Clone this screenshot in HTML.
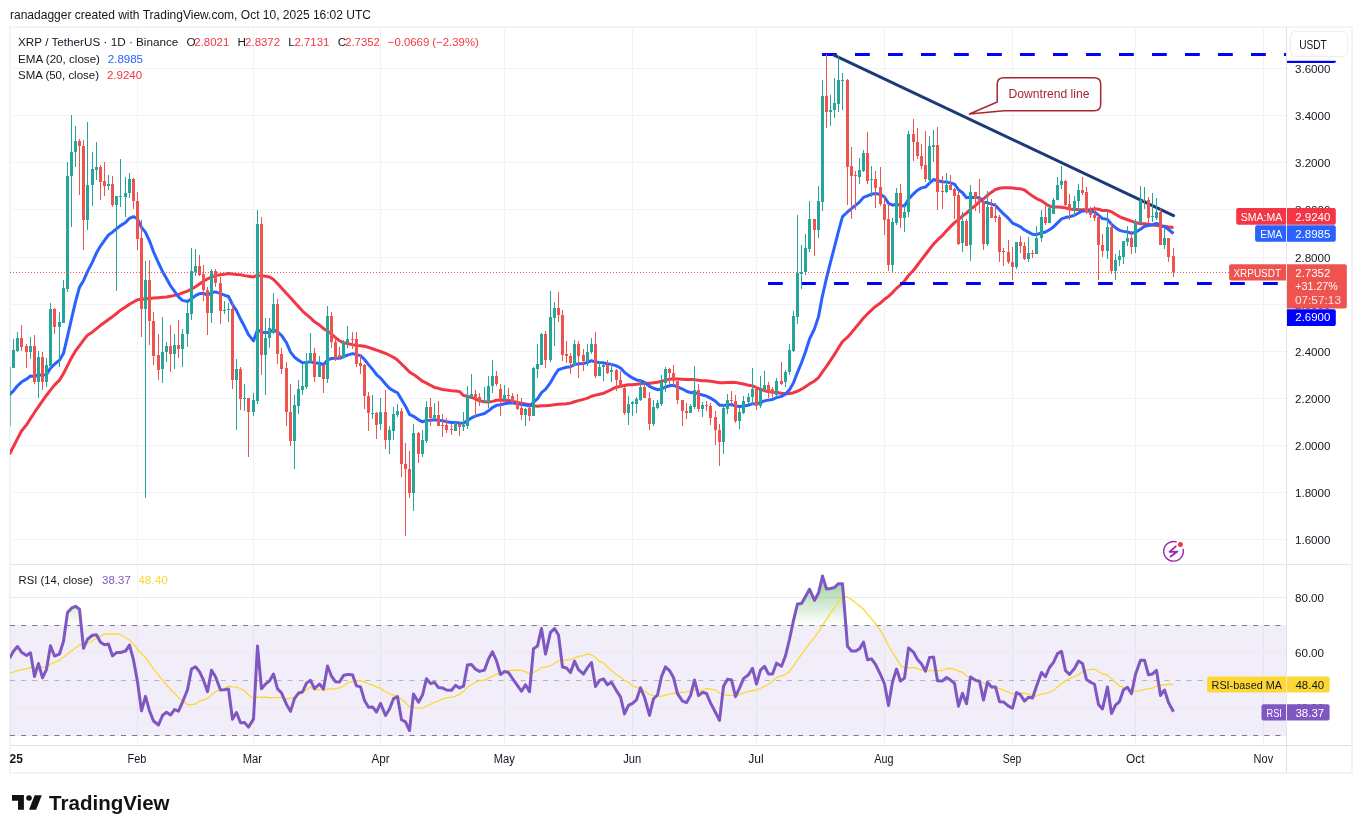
<!DOCTYPE html>
<html><head><meta charset="utf-8"><style>
html,body{margin:0;padding:0;background:#fff;}
svg{display:block;font-family:"Liberation Sans", sans-serif;will-change:transform;}
</style></head><body>
<svg width="1362" height="833" viewBox="0 0 1362 833">
<defs><clipPath id="cm"><rect x="10" y="28" width="1276" height="536"/></clipPath><clipPath id="cr"><rect x="10" y="565" width="1276" height="180"/></clipPath><clipPath id="ct"><rect x="10" y="746" width="1276" height="26"/></clipPath><linearGradient id="gob" x1="0" y1="0" x2="0" y2="1"><stop offset="0" stop-color="#4caf50" stop-opacity="0.02"/><stop offset="1" stop-color="#4caf50" stop-opacity="0.18"/></linearGradient></defs>
<text x="10" y="19" font-size="12" fill="#131722" textLength="361" lengthAdjust="spacingAndGlyphs">ranadagger created with TradingView.com, Oct 10, 2025 16:02 UTC</text>
<rect x="10" y="27.2" width="1342" height="745.8" fill="none" stroke="#f3f3f3" stroke-width="2"/>
<line x1="137.5" y1="28" x2="137.5" y2="745" stroke="#f2f3f5" stroke-width="1"/>
<line x1="253.5" y1="28" x2="253.5" y2="745" stroke="#f2f3f5" stroke-width="1"/>
<line x1="380.5" y1="28" x2="380.5" y2="745" stroke="#f2f3f5" stroke-width="1"/>
<line x1="504.5" y1="28" x2="504.5" y2="745" stroke="#f2f3f5" stroke-width="1"/>
<line x1="632.5" y1="28" x2="632.5" y2="745" stroke="#f2f3f5" stroke-width="1"/>
<line x1="756.5" y1="28" x2="756.5" y2="745" stroke="#f2f3f5" stroke-width="1"/>
<line x1="884.5" y1="28" x2="884.5" y2="745" stroke="#f2f3f5" stroke-width="1"/>
<line x1="1012.5" y1="28" x2="1012.5" y2="745" stroke="#f2f3f5" stroke-width="1"/>
<line x1="1135.5" y1="28" x2="1135.5" y2="745" stroke="#f2f3f5" stroke-width="1"/>
<line x1="1263.5" y1="28" x2="1263.5" y2="745" stroke="#f2f3f5" stroke-width="1"/>
<line x1="10" y1="539.5" x2="1286" y2="539.5" stroke="#f2f3f5" stroke-width="1"/>
<line x1="10" y1="492.5" x2="1286" y2="492.5" stroke="#f2f3f5" stroke-width="1"/>
<line x1="10" y1="445.5" x2="1286" y2="445.5" stroke="#f2f3f5" stroke-width="1"/>
<line x1="10" y1="398.5" x2="1286" y2="398.5" stroke="#f2f3f5" stroke-width="1"/>
<line x1="10" y1="351.5" x2="1286" y2="351.5" stroke="#f2f3f5" stroke-width="1"/>
<line x1="10" y1="304.5" x2="1286" y2="304.5" stroke="#f2f3f5" stroke-width="1"/>
<line x1="10" y1="257.5" x2="1286" y2="257.5" stroke="#f2f3f5" stroke-width="1"/>
<line x1="10" y1="209.5" x2="1286" y2="209.5" stroke="#f2f3f5" stroke-width="1"/>
<line x1="10" y1="162.5" x2="1286" y2="162.5" stroke="#f2f3f5" stroke-width="1"/>
<line x1="10" y1="115.5" x2="1286" y2="115.5" stroke="#f2f3f5" stroke-width="1"/>
<line x1="10" y1="68.5" x2="1286" y2="68.5" stroke="#f2f3f5" stroke-width="1"/>
<rect x="10" y="625" width="1276" height="111" fill="rgba(126,87,194,0.1)"/>
<line x1="10" y1="597.5" x2="1286" y2="597.5" stroke="#ebe8f1" stroke-width="1"/>
<line x1="10" y1="652.5" x2="1286" y2="652.5" stroke="#ebe8f1" stroke-width="1"/>
<line x1="10" y1="707.5" x2="1286" y2="707.5" stroke="#ebe8f1" stroke-width="1"/>
<line x1="10" y1="625.5" x2="1286" y2="625.5" stroke="#787b86" stroke-opacity="1" stroke-width="1" stroke-dasharray="5 6.1"/>
<line x1="10" y1="680.5" x2="1286" y2="680.5" stroke="#787b86" stroke-opacity="0.5" stroke-width="1" stroke-dasharray="5 6.1"/>
<line x1="10" y1="735.5" x2="1286" y2="735.5" stroke="#787b86" stroke-opacity="1" stroke-width="1" stroke-dasharray="5 6.1"/>
<g clip-path="url(#cm)"><polyline points="9.50,454.36 13.50,446.48 17.50,438.61 21.50,431.04 26.50,424.85 30.50,418.66 34.50,412.48 38.50,406.72 42.50,400.97 46.50,395.22 50.50,390.08 54.50,385.11 59.50,380.14 63.50,373.48 67.50,365.64 71.50,357.79 75.50,350.91 79.50,345.53 83.50,340.16 87.50,335.18 92.50,331.90 96.50,328.61 100.50,325.33 104.50,322.44 108.50,319.56 112.50,316.67 116.50,313.48 120.50,310.20 125.50,306.92 129.50,304.21 133.50,301.93 137.50,299.69 141.50,299.28 145.50,298.86 149.50,298.45 153.50,298.04 158.50,297.70 162.50,297.35 166.50,297.01 170.50,296.21 174.50,295.40 178.50,294.59 182.50,292.93 187.50,291.03 191.50,289.12 195.50,286.75 199.50,284.03 203.50,281.31 207.50,278.94 211.50,277.24 215.50,275.57 220.50,274.78 224.50,274.21 228.50,273.44 232.50,274.02 236.50,274.48 240.50,274.81 244.50,275.64 248.50,276.24 253.50,276.94 257.50,275.25 261.50,275.81 265.50,276.14 269.50,276.93 273.50,279.49 277.50,283.54 281.50,288.08 286.50,293.41 290.50,297.83 294.50,302.24 298.50,306.63 302.50,311.01 306.50,314.60 310.50,317.94 314.50,321.80 319.50,325.00 323.50,328.64 327.50,331.04 331.50,334.03 335.50,337.61 339.50,340.75 343.50,342.82 347.50,343.43 352.50,344.62 356.50,345.47 360.50,345.67 364.50,346.20 368.50,347.43 372.50,348.77 376.50,350.18 380.50,351.52 385.50,353.34 389.50,355.27 393.50,357.29 397.50,360.09 401.50,364.04 405.50,367.93 409.50,371.99 413.50,374.41 418.50,378.07 422.50,381.21 426.50,383.14 430.50,385.30 434.50,387.43 438.50,388.33 442.50,389.48 446.50,390.10 451.50,390.74 455.50,390.97 459.50,391.51 463.50,395.53 467.50,396.33 471.50,397.44 475.50,398.88 479.50,400.83 484.50,401.75 488.50,402.10 492.50,401.37 496.50,400.24 500.50,400.11 504.50,400.24 508.50,400.44 512.50,401.26 517.50,402.37 521.50,403.13 525.50,404.01 529.50,404.75 533.50,405.79 537.50,406.22 541.50,405.75 545.50,405.78 550.50,405.28 554.50,404.66 558.50,404.17 562.50,404.00 566.50,403.81 570.50,403.14 574.50,401.76 578.50,400.62 583.50,399.34 587.50,398.14 591.50,396.23 595.50,395.14 599.50,394.20 603.50,393.28 607.50,391.47 611.50,389.48 616.50,387.22 620.50,386.31 624.50,385.50 628.50,384.78 632.50,384.69 636.50,384.31 640.50,383.75 644.50,383.21 649.50,383.17 653.50,382.71 657.50,382.16 661.50,381.34 665.50,380.18 669.50,379.14 673.50,378.87 677.50,379.00 682.50,379.22 686.50,379.44 690.50,379.55 694.50,379.62 698.50,380.27 702.50,380.68 706.50,380.84 710.50,381.29 715.50,381.97 719.50,382.77 723.50,382.75 727.50,382.46 731.50,382.29 735.50,382.40 739.50,383.28 743.50,384.03 748.50,385.28 752.50,385.87 756.50,387.65 760.50,389.28 764.50,390.68 768.50,391.43 772.50,392.16 776.50,392.53 781.50,393.32 785.50,393.65 789.50,393.42 793.50,392.71 797.50,391.28 801.50,389.20 805.50,386.81 809.50,383.89 814.50,381.02 818.50,377.65 822.50,371.97 826.50,366.45 830.50,360.38 834.50,354.36 838.50,347.91 842.50,341.53 847.50,337.13 851.50,332.68 855.50,327.71 859.50,322.98 863.50,317.97 867.50,313.95 871.50,310.15 875.50,306.43 880.50,302.90 884.50,299.30 888.50,296.38 892.50,292.56 896.50,288.31 900.50,284.88 904.50,280.95 908.50,275.53 913.50,270.24 917.50,265.02 921.50,259.72 925.50,254.47 929.50,249.23 933.50,244.13 937.50,239.95 942.50,235.37 946.50,230.83 950.50,226.61 954.50,222.59 958.50,219.68 962.50,215.99 966.50,213.11 970.50,209.25 975.50,205.38 979.50,201.55 983.50,198.80 987.50,195.26 991.50,192.18 995.50,189.54 999.50,188.25 1003.50,187.84 1008.50,187.65 1012.50,188.03 1016.50,188.48 1020.50,188.82 1024.50,189.97 1028.50,193.12 1032.50,195.96 1036.50,198.52 1041.50,200.79 1045.50,203.65 1049.50,206.22 1053.50,206.88 1057.50,207.06 1061.50,207.17 1065.50,207.86 1069.50,208.99 1074.50,209.40 1078.50,209.62 1082.50,209.72 1086.50,209.87 1090.50,209.77 1094.50,208.83 1098.50,209.28 1102.50,210.45 1107.50,210.62 1111.50,211.79 1115.50,214.31 1119.50,216.59 1123.50,218.28 1127.50,219.72 1131.50,221.07 1135.50,222.58 1140.50,223.67 1144.50,223.83 1148.50,224.34 1152.50,224.97 1156.50,225.40 1160.50,226.38 1164.50,226.26 1168.50,226.97 1173.50,227.50" fill="none" stroke="#f23645" stroke-width="3" stroke-linejoin="round"/><polyline points="9.50,395.05 13.50,390.77 17.50,385.76 21.50,382.05 26.50,379.15 30.50,375.99 34.50,376.57 38.50,374.70 42.50,375.38 46.50,374.40 50.50,368.16 54.50,364.21 59.50,360.18 63.50,353.32 67.50,336.43 71.50,318.86 75.50,301.95 79.50,287.11 83.50,280.69 87.50,271.60 92.50,261.86 96.50,252.84 100.50,246.05 104.50,240.35 108.50,234.98 112.50,232.12 116.50,228.72 120.50,225.61 125.50,222.48 129.50,218.33 133.50,216.67 137.50,218.77 141.50,227.32 145.50,232.34 149.50,240.82 153.50,251.74 158.50,262.99 162.50,271.47 166.50,278.55 170.50,285.75 174.50,291.36 178.50,296.83 182.50,300.38 187.50,301.58 191.50,298.69 195.50,295.59 199.50,293.62 203.50,293.29 207.50,295.14 211.50,292.82 215.50,291.90 220.50,293.68 224.50,295.21 228.50,296.49 232.50,304.48 236.50,310.62 240.50,319.02 244.50,326.56 248.50,334.68 253.50,340.92 257.50,329.79 261.50,332.17 265.50,332.76 269.50,332.27 273.50,329.59 277.50,331.95 281.50,335.44 286.50,342.77 290.50,352.12 294.50,357.19 298.50,360.22 302.50,362.69 306.50,362.55 310.50,361.66 314.50,363.09 319.50,363.27 323.50,364.74 327.50,360.09 331.50,358.41 335.50,358.33 339.50,358.32 343.50,356.74 347.50,355.07 352.50,353.62 356.50,354.58 360.50,355.64 364.50,359.51 368.50,364.63 372.50,369.21 376.50,374.51 380.50,378.07 385.50,383.95 389.50,388.35 393.50,390.82 397.50,392.76 401.50,399.51 405.50,406.16 409.50,414.46 413.50,416.26 418.50,419.83 422.50,421.79 426.50,420.39 430.50,420.14 434.50,419.66 438.50,420.22 442.50,420.78 446.50,421.66 451.50,422.48 455.50,422.56 459.50,423.01 463.50,423.19 467.50,420.48 471.50,417.95 475.50,416.18 479.50,414.83 484.50,413.46 488.50,410.85 492.50,407.52 496.50,405.33 500.50,404.71 504.50,403.81 508.50,403.10 512.50,402.99 517.50,403.56 521.50,404.62 525.50,405.04 529.50,406.06 533.50,402.41 537.50,398.73 541.50,392.57 545.50,389.43 550.50,382.54 554.50,375.46 558.50,369.71 562.50,368.32 566.50,367.20 570.50,366.77 574.50,364.63 578.50,363.76 583.50,363.51 587.50,362.40 591.50,360.68 595.50,362.09 599.50,362.58 603.50,362.84 607.50,363.80 611.50,364.37 616.50,365.90 620.50,368.02 624.50,372.32 628.50,375.38 632.50,377.95 636.50,379.96 640.50,380.64 644.50,382.33 649.50,386.29 653.50,388.27 657.50,389.68 661.50,388.95 665.50,387.07 669.50,385.76 673.50,385.31 677.50,386.74 682.50,389.02 686.50,391.27 690.50,392.66 694.50,392.37 698.50,393.92 702.50,394.98 706.50,396.08 710.50,398.15 715.50,401.22 719.50,405.08 723.50,405.39 727.50,404.88 731.50,404.48 735.50,406.05 739.50,406.61 743.50,406.09 748.50,405.19 752.50,403.67 756.50,403.88 760.50,402.53 764.50,400.87 768.50,400.11 772.50,399.42 776.50,397.67 781.50,396.34 785.50,394.02 789.50,389.83 793.50,382.80 797.50,372.32 801.50,362.72 805.50,351.80 809.50,339.18 814.50,328.74 818.50,316.60 822.50,295.59 826.50,278.13 830.50,262.11 834.50,246.98 838.50,231.08 842.50,216.71 847.50,211.97 851.50,208.52 855.50,205.39 859.50,202.04 863.50,197.36 867.50,195.80 871.50,194.20 875.50,193.57 880.50,194.59 884.50,197.03 888.50,203.48 892.50,205.22 896.50,204.09 900.50,205.43 904.50,206.06 908.50,199.20 913.50,193.77 917.50,190.22 921.50,187.87 925.50,187.06 929.50,183.18 933.50,179.55 937.50,180.70 942.50,181.78 946.50,182.09 950.50,182.85 954.50,184.07 958.50,189.75 962.50,192.75 966.50,197.79 970.50,197.24 975.50,197.44 979.50,197.82 983.50,202.19 987.50,202.64 991.50,204.08 995.50,205.39 999.50,209.81 1003.50,213.87 1008.50,218.45 1012.50,223.04 1016.50,224.85 1020.50,226.91 1024.50,229.95 1028.50,232.17 1032.50,234.29 1036.50,234.65 1041.50,232.95 1045.50,232.00 1049.50,229.76 1053.50,226.92 1057.50,222.92 1061.50,218.94 1065.50,217.57 1069.50,216.81 1074.50,215.33 1078.50,212.91 1082.50,211.00 1086.50,211.07 1090.50,211.47 1094.50,212.05 1098.50,215.15 1102.50,218.60 1107.50,219.39 1111.50,224.27 1115.50,227.69 1119.50,230.37 1123.50,231.38 1127.50,232.00 1131.50,233.41 1135.50,232.28 1140.50,229.17 1144.50,226.35 1148.50,225.52 1152.50,224.66 1156.50,223.43 1160.50,225.45 1164.50,226.63 1168.50,229.49 1173.50,233.54" fill="none" stroke="#2962ff" stroke-width="3" stroke-linejoin="round"/><line x1="822" y1="54.5" x2="1286" y2="54.5" stroke="#0000ff" stroke-width="3" stroke-dasharray="14.8 18.2"/><line x1="768" y1="283.5" x2="1286" y2="283.5" stroke="#0000ff" stroke-width="3" stroke-dasharray="14.8 18.2"/><line x1="834" y1="55.2" x2="1173.5" y2="215.6" stroke="#1c3a78" stroke-width="3" stroke-linecap="round"/><path d="M1003.8,77.7 H1094.2 Q1100.7,77.7 1100.7,84.2 V104.2 Q1100.7,110.7 1094.2,110.7 H1004 L969.4,114 L997.2,102 V84.2 Q997.2,77.7 1003.8,77.7 Z" fill="#ffffff" stroke="#a8262f" stroke-width="1.5" stroke-linejoin="round"/><text x="1008.5" y="97.5" font-size="12" fill="#a8262f" textLength="81" lengthAdjust="spacingAndGlyphs">Downtrend line</text><rect x="13" y="339" width="1" height="29" fill="#26a69a"/><rect x="12" y="350" width="3" height="18" fill="#26a69a"/><rect x="17" y="332" width="1" height="20" fill="#26a69a"/><rect x="16" y="338" width="3" height="13" fill="#26a69a"/><rect x="21" y="325" width="1" height="26" fill="#ef5350"/><rect x="20" y="338" width="3" height="9" fill="#ef5350"/><rect x="26" y="344" width="1" height="24" fill="#ef5350"/><rect x="25" y="346" width="3" height="6" fill="#ef5350"/><rect x="30" y="337" width="1" height="22" fill="#26a69a"/><rect x="29" y="346" width="3" height="6" fill="#26a69a"/><rect x="34" y="335" width="1" height="49" fill="#ef5350"/><rect x="33" y="346" width="3" height="36" fill="#ef5350"/><rect x="38" y="351" width="1" height="47" fill="#26a69a"/><rect x="37" y="357" width="3" height="25" fill="#26a69a"/><rect x="42" y="352" width="1" height="38" fill="#ef5350"/><rect x="41" y="357" width="3" height="25" fill="#ef5350"/><rect x="46" y="358" width="1" height="29" fill="#26a69a"/><rect x="45" y="365" width="3" height="17" fill="#26a69a"/><rect x="50" y="303" width="1" height="65" fill="#26a69a"/><rect x="49" y="309" width="3" height="57" fill="#26a69a"/><rect x="54" y="308" width="1" height="26" fill="#ef5350"/><rect x="53" y="309" width="3" height="18" fill="#ef5350"/><rect x="59" y="312" width="1" height="55" fill="#26a69a"/><rect x="58" y="322" width="3" height="5" fill="#26a69a"/><rect x="63" y="280" width="1" height="43" fill="#26a69a"/><rect x="62" y="288" width="3" height="35" fill="#26a69a"/><rect x="67" y="162" width="1" height="130" fill="#26a69a"/><rect x="66" y="176" width="3" height="113" fill="#26a69a"/><rect x="71" y="115" width="1" height="112" fill="#26a69a"/><rect x="70" y="152" width="3" height="24" fill="#26a69a"/><rect x="75" y="126" width="1" height="41" fill="#26a69a"/><rect x="74" y="141" width="3" height="11" fill="#26a69a"/><rect x="79" y="139" width="1" height="56" fill="#ef5350"/><rect x="78" y="141" width="3" height="5" fill="#ef5350"/><rect x="83" y="140" width="1" height="110" fill="#ef5350"/><rect x="82" y="146" width="3" height="74" fill="#ef5350"/><rect x="87" y="122" width="1" height="108" fill="#26a69a"/><rect x="86" y="185" width="3" height="35" fill="#26a69a"/><rect x="92" y="152" width="1" height="54" fill="#26a69a"/><rect x="91" y="169" width="3" height="16" fill="#26a69a"/><rect x="96" y="142" width="1" height="38" fill="#26a69a"/><rect x="95" y="167" width="3" height="3" fill="#26a69a"/><rect x="100" y="165" width="1" height="35" fill="#ef5350"/><rect x="99" y="167" width="3" height="15" fill="#ef5350"/><rect x="104" y="162" width="1" height="34" fill="#ef5350"/><rect x="103" y="181" width="3" height="5" fill="#ef5350"/><rect x="108" y="175" width="1" height="15" fill="#26a69a"/><rect x="107" y="184" width="3" height="2" fill="#26a69a"/><rect x="112" y="176" width="1" height="31" fill="#ef5350"/><rect x="111" y="184" width="3" height="21" fill="#ef5350"/><rect x="116" y="196" width="1" height="95" fill="#26a69a"/><rect x="115" y="196" width="3" height="9" fill="#26a69a"/><rect x="120" y="159" width="1" height="48" fill="#26a69a"/><rect x="119" y="196" width="3" height="1" fill="#26a69a"/><rect x="125" y="177" width="1" height="40" fill="#26a69a"/><rect x="124" y="193" width="3" height="4" fill="#26a69a"/><rect x="129" y="173" width="1" height="25" fill="#26a69a"/><rect x="128" y="179" width="3" height="14" fill="#26a69a"/><rect x="133" y="178" width="1" height="31" fill="#ef5350"/><rect x="132" y="179" width="3" height="22" fill="#ef5350"/><rect x="137" y="192" width="1" height="58" fill="#ef5350"/><rect x="136" y="201" width="3" height="38" fill="#ef5350"/><rect x="141" y="220" width="1" height="117" fill="#ef5350"/><rect x="140" y="238" width="3" height="71" fill="#ef5350"/><rect x="145" y="261" width="1" height="237" fill="#26a69a"/><rect x="144" y="280" width="3" height="29" fill="#26a69a"/><rect x="149" y="260" width="1" height="85" fill="#ef5350"/><rect x="148" y="280" width="3" height="41" fill="#ef5350"/><rect x="153" y="312" width="1" height="53" fill="#ef5350"/><rect x="152" y="321" width="3" height="35" fill="#ef5350"/><rect x="158" y="334" width="1" height="46" fill="#ef5350"/><rect x="157" y="355" width="3" height="15" fill="#ef5350"/><rect x="162" y="317" width="1" height="66" fill="#26a69a"/><rect x="161" y="352" width="3" height="17" fill="#26a69a"/><rect x="166" y="342" width="1" height="20" fill="#26a69a"/><rect x="165" y="346" width="3" height="6" fill="#26a69a"/><rect x="170" y="325" width="1" height="47" fill="#ef5350"/><rect x="169" y="346" width="3" height="8" fill="#ef5350"/><rect x="174" y="334" width="1" height="35" fill="#26a69a"/><rect x="173" y="345" width="3" height="9" fill="#26a69a"/><rect x="178" y="320" width="1" height="38" fill="#ef5350"/><rect x="177" y="345" width="3" height="4" fill="#ef5350"/><rect x="182" y="329" width="1" height="38" fill="#26a69a"/><rect x="181" y="334" width="3" height="15" fill="#26a69a"/><rect x="187" y="302" width="1" height="45" fill="#26a69a"/><rect x="186" y="313" width="3" height="21" fill="#26a69a"/><rect x="191" y="248" width="1" height="72" fill="#26a69a"/><rect x="190" y="271" width="3" height="43" fill="#26a69a"/><rect x="195" y="249" width="1" height="27" fill="#26a69a"/><rect x="194" y="266" width="3" height="6" fill="#26a69a"/><rect x="199" y="255" width="1" height="21" fill="#ef5350"/><rect x="198" y="266" width="3" height="9" fill="#ef5350"/><rect x="203" y="265" width="1" height="36" fill="#ef5350"/><rect x="202" y="274" width="3" height="16" fill="#ef5350"/><rect x="207" y="287" width="1" height="48" fill="#ef5350"/><rect x="206" y="290" width="3" height="23" fill="#ef5350"/><rect x="211" y="269" width="1" height="54" fill="#26a69a"/><rect x="210" y="271" width="3" height="42" fill="#26a69a"/><rect x="215" y="269" width="1" height="18" fill="#ef5350"/><rect x="214" y="271" width="3" height="12" fill="#ef5350"/><rect x="220" y="277" width="1" height="47" fill="#ef5350"/><rect x="219" y="283" width="3" height="28" fill="#ef5350"/><rect x="224" y="301" width="1" height="13" fill="#26a69a"/><rect x="223" y="310" width="3" height="1" fill="#26a69a"/><rect x="228" y="303" width="1" height="19" fill="#26a69a"/><rect x="227" y="309" width="3" height="1" fill="#26a69a"/><rect x="232" y="303" width="1" height="86" fill="#ef5350"/><rect x="231" y="309" width="3" height="71" fill="#ef5350"/><rect x="236" y="359" width="1" height="71" fill="#26a69a"/><rect x="235" y="369" width="3" height="11" fill="#26a69a"/><rect x="240" y="367" width="1" height="43" fill="#ef5350"/><rect x="239" y="369" width="3" height="30" fill="#ef5350"/><rect x="244" y="384" width="1" height="27" fill="#26a69a"/><rect x="243" y="398" width="3" height="1" fill="#26a69a"/><rect x="248" y="398" width="1" height="59" fill="#ef5350"/><rect x="247" y="398" width="3" height="14" fill="#ef5350"/><rect x="253" y="393" width="1" height="23" fill="#26a69a"/><rect x="252" y="400" width="3" height="12" fill="#26a69a"/><rect x="257" y="210" width="1" height="194" fill="#26a69a"/><rect x="256" y="224" width="3" height="177" fill="#26a69a"/><rect x="261" y="217" width="1" height="158" fill="#ef5350"/><rect x="260" y="224" width="3" height="131" fill="#ef5350"/><rect x="265" y="318" width="1" height="77" fill="#26a69a"/><rect x="264" y="338" width="3" height="17" fill="#26a69a"/><rect x="269" y="318" width="1" height="30" fill="#26a69a"/><rect x="268" y="328" width="3" height="10" fill="#26a69a"/><rect x="273" y="293" width="1" height="41" fill="#26a69a"/><rect x="272" y="304" width="3" height="29" fill="#26a69a"/><rect x="277" y="299" width="1" height="65" fill="#ef5350"/><rect x="276" y="304" width="3" height="50" fill="#ef5350"/><rect x="281" y="348" width="1" height="26" fill="#ef5350"/><rect x="280" y="354" width="3" height="15" fill="#ef5350"/><rect x="286" y="362" width="1" height="64" fill="#ef5350"/><rect x="285" y="368" width="3" height="44" fill="#ef5350"/><rect x="290" y="384" width="1" height="62" fill="#ef5350"/><rect x="289" y="412" width="3" height="29" fill="#ef5350"/><rect x="294" y="395" width="1" height="74" fill="#26a69a"/><rect x="293" y="405" width="3" height="36" fill="#26a69a"/><rect x="298" y="380" width="1" height="34" fill="#26a69a"/><rect x="297" y="389" width="3" height="17" fill="#26a69a"/><rect x="302" y="363" width="1" height="32" fill="#26a69a"/><rect x="301" y="386" width="3" height="4" fill="#26a69a"/><rect x="306" y="353" width="1" height="36" fill="#26a69a"/><rect x="305" y="361" width="3" height="26" fill="#26a69a"/><rect x="310" y="333" width="1" height="29" fill="#26a69a"/><rect x="309" y="353" width="3" height="9" fill="#26a69a"/><rect x="314" y="348" width="1" height="34" fill="#ef5350"/><rect x="313" y="353" width="3" height="24" fill="#ef5350"/><rect x="319" y="356" width="1" height="21" fill="#26a69a"/><rect x="318" y="365" width="3" height="12" fill="#26a69a"/><rect x="323" y="365" width="1" height="28" fill="#ef5350"/><rect x="322" y="365" width="3" height="14" fill="#ef5350"/><rect x="327" y="306" width="1" height="77" fill="#26a69a"/><rect x="326" y="316" width="3" height="63" fill="#26a69a"/><rect x="331" y="312" width="1" height="36" fill="#ef5350"/><rect x="330" y="316" width="3" height="26" fill="#ef5350"/><rect x="335" y="336" width="1" height="25" fill="#ef5350"/><rect x="334" y="342" width="3" height="16" fill="#ef5350"/><rect x="339" y="347" width="1" height="12" fill="#ef5350"/><rect x="338" y="355" width="3" height="3" fill="#ef5350"/><rect x="343" y="340" width="1" height="18" fill="#26a69a"/><rect x="342" y="342" width="3" height="16" fill="#26a69a"/><rect x="347" y="326" width="1" height="22" fill="#26a69a"/><rect x="346" y="339" width="3" height="3" fill="#26a69a"/><rect x="352" y="332" width="1" height="17" fill="#ef5350"/><rect x="351" y="339" width="3" height="1" fill="#ef5350"/><rect x="356" y="332" width="1" height="35" fill="#ef5350"/><rect x="355" y="339" width="3" height="25" fill="#ef5350"/><rect x="360" y="354" width="1" height="20" fill="#ef5350"/><rect x="359" y="363" width="3" height="3" fill="#ef5350"/><rect x="364" y="364" width="1" height="45" fill="#ef5350"/><rect x="363" y="365" width="3" height="31" fill="#ef5350"/><rect x="368" y="392" width="1" height="39" fill="#ef5350"/><rect x="367" y="396" width="3" height="17" fill="#ef5350"/><rect x="372" y="395" width="1" height="24" fill="#26a69a"/><rect x="371" y="413" width="3" height="1" fill="#26a69a"/><rect x="376" y="412" width="1" height="27" fill="#ef5350"/><rect x="375" y="413" width="3" height="12" fill="#ef5350"/><rect x="380" y="398" width="1" height="32" fill="#26a69a"/><rect x="379" y="412" width="3" height="12" fill="#26a69a"/><rect x="385" y="390" width="1" height="59" fill="#ef5350"/><rect x="384" y="412" width="3" height="28" fill="#ef5350"/><rect x="389" y="426" width="1" height="28" fill="#26a69a"/><rect x="388" y="430" width="3" height="10" fill="#26a69a"/><rect x="393" y="407" width="1" height="33" fill="#26a69a"/><rect x="392" y="414" width="3" height="17" fill="#26a69a"/><rect x="397" y="404" width="1" height="13" fill="#26a69a"/><rect x="396" y="411" width="3" height="4" fill="#26a69a"/><rect x="401" y="408" width="1" height="69" fill="#ef5350"/><rect x="400" y="411" width="3" height="53" fill="#ef5350"/><rect x="405" y="443" width="1" height="93" fill="#ef5350"/><rect x="404" y="464" width="3" height="5" fill="#ef5350"/><rect x="409" y="451" width="1" height="47" fill="#ef5350"/><rect x="408" y="469" width="3" height="24" fill="#ef5350"/><rect x="413" y="424" width="1" height="87" fill="#26a69a"/><rect x="412" y="433" width="3" height="60" fill="#26a69a"/><rect x="418" y="432" width="1" height="31" fill="#ef5350"/><rect x="417" y="433" width="3" height="21" fill="#ef5350"/><rect x="422" y="430" width="1" height="27" fill="#26a69a"/><rect x="421" y="440" width="3" height="14" fill="#26a69a"/><rect x="426" y="401" width="1" height="42" fill="#26a69a"/><rect x="425" y="407" width="3" height="34" fill="#26a69a"/><rect x="430" y="398" width="1" height="28" fill="#ef5350"/><rect x="429" y="407" width="3" height="11" fill="#ef5350"/><rect x="434" y="403" width="1" height="17" fill="#26a69a"/><rect x="433" y="415" width="3" height="3" fill="#26a69a"/><rect x="438" y="401" width="1" height="25" fill="#ef5350"/><rect x="437" y="415" width="3" height="11" fill="#ef5350"/><rect x="442" y="414" width="1" height="23" fill="#ef5350"/><rect x="441" y="425" width="3" height="1" fill="#ef5350"/><rect x="446" y="418" width="1" height="15" fill="#ef5350"/><rect x="445" y="425" width="3" height="5" fill="#ef5350"/><rect x="451" y="424" width="1" height="11" fill="#ef5350"/><rect x="450" y="429" width="3" height="1" fill="#ef5350"/><rect x="455" y="422" width="1" height="9" fill="#26a69a"/><rect x="454" y="423" width="3" height="8" fill="#26a69a"/><rect x="459" y="423" width="1" height="13" fill="#ef5350"/><rect x="458" y="424" width="3" height="3" fill="#ef5350"/><rect x="463" y="412" width="1" height="19" fill="#26a69a"/><rect x="462" y="425" width="3" height="2" fill="#26a69a"/><rect x="467" y="386" width="1" height="43" fill="#26a69a"/><rect x="466" y="395" width="3" height="31" fill="#26a69a"/><rect x="471" y="374" width="1" height="24" fill="#26a69a"/><rect x="470" y="394" width="3" height="3" fill="#26a69a"/><rect x="475" y="390" width="1" height="27" fill="#ef5350"/><rect x="474" y="394" width="3" height="5" fill="#ef5350"/><rect x="479" y="393" width="1" height="13" fill="#ef5350"/><rect x="478" y="397" width="3" height="5" fill="#ef5350"/><rect x="484" y="387" width="1" height="15" fill="#26a69a"/><rect x="483" y="400" width="3" height="2" fill="#26a69a"/><rect x="488" y="376" width="1" height="32" fill="#26a69a"/><rect x="487" y="386" width="3" height="16" fill="#26a69a"/><rect x="492" y="360" width="1" height="33" fill="#26a69a"/><rect x="491" y="376" width="3" height="10" fill="#26a69a"/><rect x="496" y="371" width="1" height="15" fill="#ef5350"/><rect x="495" y="376" width="3" height="8" fill="#ef5350"/><rect x="500" y="384" width="1" height="32" fill="#ef5350"/><rect x="499" y="389" width="3" height="10" fill="#ef5350"/><rect x="504" y="385" width="1" height="15" fill="#26a69a"/><rect x="503" y="395" width="3" height="5" fill="#26a69a"/><rect x="508" y="388" width="1" height="12" fill="#ef5350"/><rect x="507" y="395" width="3" height="1" fill="#ef5350"/><rect x="512" y="393" width="1" height="11" fill="#ef5350"/><rect x="511" y="396" width="3" height="6" fill="#ef5350"/><rect x="517" y="394" width="1" height="16" fill="#ef5350"/><rect x="516" y="401" width="3" height="8" fill="#ef5350"/><rect x="521" y="398" width="1" height="22" fill="#ef5350"/><rect x="520" y="408" width="3" height="7" fill="#ef5350"/><rect x="525" y="408" width="1" height="18" fill="#26a69a"/><rect x="524" y="409" width="3" height="6" fill="#26a69a"/><rect x="529" y="405" width="1" height="16" fill="#ef5350"/><rect x="528" y="408" width="3" height="8" fill="#ef5350"/><rect x="533" y="367" width="1" height="49" fill="#26a69a"/><rect x="532" y="368" width="3" height="48" fill="#26a69a"/><rect x="537" y="344" width="1" height="34" fill="#26a69a"/><rect x="536" y="364" width="3" height="5" fill="#26a69a"/><rect x="541" y="333" width="1" height="32" fill="#26a69a"/><rect x="540" y="334" width="3" height="31" fill="#26a69a"/><rect x="545" y="331" width="1" height="37" fill="#ef5350"/><rect x="544" y="334" width="3" height="26" fill="#ef5350"/><rect x="550" y="291" width="1" height="71" fill="#26a69a"/><rect x="549" y="317" width="3" height="43" fill="#26a69a"/><rect x="554" y="302" width="1" height="44" fill="#26a69a"/><rect x="553" y="308" width="3" height="10" fill="#26a69a"/><rect x="558" y="292" width="1" height="30" fill="#ef5350"/><rect x="557" y="308" width="3" height="7" fill="#ef5350"/><rect x="562" y="310" width="1" height="51" fill="#ef5350"/><rect x="561" y="315" width="3" height="40" fill="#ef5350"/><rect x="566" y="341" width="1" height="22" fill="#ef5350"/><rect x="565" y="354" width="3" height="2" fill="#ef5350"/><rect x="570" y="353" width="1" height="21" fill="#ef5350"/><rect x="569" y="356" width="3" height="7" fill="#ef5350"/><rect x="574" y="340" width="1" height="26" fill="#26a69a"/><rect x="573" y="344" width="3" height="22" fill="#26a69a"/><rect x="578" y="341" width="1" height="37" fill="#ef5350"/><rect x="577" y="344" width="3" height="12" fill="#ef5350"/><rect x="583" y="349" width="1" height="22" fill="#ef5350"/><rect x="582" y="355" width="3" height="6" fill="#ef5350"/><rect x="587" y="344" width="1" height="22" fill="#26a69a"/><rect x="586" y="352" width="3" height="10" fill="#26a69a"/><rect x="591" y="338" width="1" height="16" fill="#26a69a"/><rect x="590" y="344" width="3" height="8" fill="#26a69a"/><rect x="595" y="332" width="1" height="46" fill="#ef5350"/><rect x="594" y="344" width="3" height="32" fill="#ef5350"/><rect x="599" y="361" width="1" height="15" fill="#26a69a"/><rect x="598" y="367" width="3" height="9" fill="#26a69a"/><rect x="603" y="364" width="1" height="17" fill="#26a69a"/><rect x="602" y="365" width="3" height="2" fill="#26a69a"/><rect x="607" y="360" width="1" height="14" fill="#ef5350"/><rect x="606" y="365" width="3" height="8" fill="#ef5350"/><rect x="611" y="363" width="1" height="19" fill="#26a69a"/><rect x="610" y="370" width="3" height="2" fill="#26a69a"/><rect x="616" y="369" width="1" height="22" fill="#ef5350"/><rect x="615" y="370" width="3" height="10" fill="#ef5350"/><rect x="620" y="371" width="1" height="17" fill="#ef5350"/><rect x="619" y="380" width="3" height="8" fill="#ef5350"/><rect x="624" y="387" width="1" height="28" fill="#ef5350"/><rect x="623" y="388" width="3" height="25" fill="#ef5350"/><rect x="628" y="396" width="1" height="29" fill="#26a69a"/><rect x="627" y="404" width="3" height="9" fill="#26a69a"/><rect x="632" y="401" width="1" height="15" fill="#26a69a"/><rect x="631" y="402" width="3" height="2" fill="#26a69a"/><rect x="636" y="397" width="1" height="16" fill="#26a69a"/><rect x="635" y="399" width="3" height="5" fill="#26a69a"/><rect x="640" y="379" width="1" height="22" fill="#26a69a"/><rect x="639" y="387" width="3" height="13" fill="#26a69a"/><rect x="644" y="383" width="1" height="15" fill="#ef5350"/><rect x="643" y="387" width="3" height="11" fill="#ef5350"/><rect x="649" y="392" width="1" height="38" fill="#ef5350"/><rect x="648" y="398" width="3" height="26" fill="#ef5350"/><rect x="653" y="400" width="1" height="26" fill="#26a69a"/><rect x="652" y="407" width="3" height="17" fill="#26a69a"/><rect x="657" y="400" width="1" height="9" fill="#26a69a"/><rect x="656" y="403" width="3" height="5" fill="#26a69a"/><rect x="661" y="375" width="1" height="31" fill="#26a69a"/><rect x="660" y="382" width="3" height="22" fill="#26a69a"/><rect x="665" y="367" width="1" height="25" fill="#26a69a"/><rect x="664" y="369" width="3" height="14" fill="#26a69a"/><rect x="669" y="368" width="1" height="16" fill="#ef5350"/><rect x="668" y="369" width="3" height="4" fill="#ef5350"/><rect x="673" y="365" width="1" height="21" fill="#ef5350"/><rect x="672" y="373" width="3" height="8" fill="#ef5350"/><rect x="677" y="381" width="1" height="23" fill="#ef5350"/><rect x="676" y="381" width="3" height="19" fill="#ef5350"/><rect x="682" y="400" width="1" height="26" fill="#ef5350"/><rect x="681" y="400" width="3" height="11" fill="#ef5350"/><rect x="686" y="403" width="1" height="16" fill="#ef5350"/><rect x="685" y="411" width="3" height="2" fill="#ef5350"/><rect x="690" y="404" width="1" height="9" fill="#26a69a"/><rect x="689" y="406" width="3" height="7" fill="#26a69a"/><rect x="694" y="366" width="1" height="43" fill="#26a69a"/><rect x="693" y="390" width="3" height="17" fill="#26a69a"/><rect x="698" y="384" width="1" height="28" fill="#ef5350"/><rect x="697" y="390" width="3" height="19" fill="#ef5350"/><rect x="702" y="402" width="1" height="15" fill="#26a69a"/><rect x="701" y="405" width="3" height="4" fill="#26a69a"/><rect x="706" y="401" width="1" height="10" fill="#ef5350"/><rect x="705" y="405" width="3" height="1" fill="#ef5350"/><rect x="710" y="403" width="1" height="22" fill="#ef5350"/><rect x="709" y="406" width="3" height="12" fill="#ef5350"/><rect x="715" y="411" width="1" height="34" fill="#ef5350"/><rect x="714" y="417" width="3" height="13" fill="#ef5350"/><rect x="719" y="424" width="1" height="42" fill="#ef5350"/><rect x="718" y="430" width="3" height="12" fill="#ef5350"/><rect x="723" y="405" width="1" height="49" fill="#26a69a"/><rect x="722" y="408" width="3" height="34" fill="#26a69a"/><rect x="727" y="394" width="1" height="20" fill="#26a69a"/><rect x="726" y="400" width="3" height="9" fill="#26a69a"/><rect x="731" y="391" width="1" height="14" fill="#ef5350"/><rect x="730" y="400" width="3" height="1" fill="#ef5350"/><rect x="735" y="395" width="1" height="28" fill="#ef5350"/><rect x="734" y="401" width="3" height="20" fill="#ef5350"/><rect x="739" y="408" width="1" height="21" fill="#26a69a"/><rect x="738" y="412" width="3" height="9" fill="#26a69a"/><rect x="743" y="396" width="1" height="18" fill="#26a69a"/><rect x="742" y="401" width="3" height="12" fill="#26a69a"/><rect x="748" y="393" width="1" height="11" fill="#26a69a"/><rect x="747" y="397" width="3" height="5" fill="#26a69a"/><rect x="752" y="368" width="1" height="37" fill="#26a69a"/><rect x="751" y="389" width="3" height="8" fill="#26a69a"/><rect x="756" y="386" width="1" height="24" fill="#ef5350"/><rect x="755" y="389" width="3" height="17" fill="#ef5350"/><rect x="760" y="376" width="1" height="32" fill="#26a69a"/><rect x="759" y="390" width="3" height="16" fill="#26a69a"/><rect x="764" y="371" width="1" height="20" fill="#26a69a"/><rect x="763" y="385" width="3" height="6" fill="#26a69a"/><rect x="768" y="382" width="1" height="16" fill="#ef5350"/><rect x="767" y="385" width="3" height="8" fill="#ef5350"/><rect x="772" y="387" width="1" height="10" fill="#ef5350"/><rect x="771" y="389" width="3" height="4" fill="#ef5350"/><rect x="776" y="378" width="1" height="18" fill="#26a69a"/><rect x="775" y="381" width="3" height="14" fill="#26a69a"/><rect x="781" y="362" width="1" height="23" fill="#ef5350"/><rect x="780" y="381" width="3" height="3" fill="#ef5350"/><rect x="785" y="370" width="1" height="17" fill="#26a69a"/><rect x="784" y="372" width="3" height="10" fill="#26a69a"/><rect x="789" y="344" width="1" height="31" fill="#26a69a"/><rect x="788" y="350" width="3" height="22" fill="#26a69a"/><rect x="793" y="311" width="1" height="41" fill="#26a69a"/><rect x="792" y="316" width="3" height="35" fill="#26a69a"/><rect x="797" y="215" width="1" height="109" fill="#26a69a"/><rect x="796" y="273" width="3" height="44" fill="#26a69a"/><rect x="801" y="245" width="1" height="44" fill="#26a69a"/><rect x="800" y="272" width="3" height="2" fill="#26a69a"/><rect x="805" y="234" width="1" height="41" fill="#26a69a"/><rect x="804" y="248" width="3" height="24" fill="#26a69a"/><rect x="809" y="201" width="1" height="51" fill="#26a69a"/><rect x="808" y="219" width="3" height="30" fill="#26a69a"/><rect x="814" y="219" width="1" height="37" fill="#ef5350"/><rect x="813" y="219" width="3" height="11" fill="#ef5350"/><rect x="818" y="186" width="1" height="52" fill="#26a69a"/><rect x="817" y="201" width="3" height="29" fill="#26a69a"/><rect x="822" y="80" width="1" height="131" fill="#26a69a"/><rect x="821" y="96" width="3" height="106" fill="#26a69a"/><rect x="826" y="54" width="1" height="74" fill="#ef5350"/><rect x="825" y="96" width="3" height="16" fill="#ef5350"/><rect x="830" y="95" width="1" height="31" fill="#26a69a"/><rect x="829" y="110" width="3" height="2" fill="#26a69a"/><rect x="834" y="78" width="1" height="40" fill="#26a69a"/><rect x="833" y="103" width="3" height="7" fill="#26a69a"/><rect x="838" y="56" width="1" height="56" fill="#26a69a"/><rect x="837" y="80" width="3" height="24" fill="#26a69a"/><rect x="842" y="73" width="1" height="37" fill="#26a69a"/><rect x="841" y="80" width="3" height="1" fill="#26a69a"/><rect x="847" y="79" width="1" height="126" fill="#ef5350"/><rect x="846" y="80" width="3" height="87" fill="#ef5350"/><rect x="851" y="147" width="1" height="72" fill="#ef5350"/><rect x="850" y="166" width="3" height="10" fill="#ef5350"/><rect x="855" y="171" width="1" height="39" fill="#ef5350"/><rect x="854" y="175" width="3" height="1" fill="#ef5350"/><rect x="859" y="158" width="1" height="26" fill="#26a69a"/><rect x="858" y="170" width="3" height="7" fill="#26a69a"/><rect x="863" y="150" width="1" height="22" fill="#26a69a"/><rect x="862" y="153" width="3" height="18" fill="#26a69a"/><rect x="867" y="132" width="1" height="52" fill="#ef5350"/><rect x="866" y="153" width="3" height="28" fill="#ef5350"/><rect x="871" y="166" width="1" height="31" fill="#26a69a"/><rect x="870" y="179" width="3" height="1" fill="#26a69a"/><rect x="875" y="171" width="1" height="37" fill="#ef5350"/><rect x="874" y="179" width="3" height="9" fill="#ef5350"/><rect x="880" y="167" width="1" height="39" fill="#ef5350"/><rect x="879" y="187" width="3" height="17" fill="#ef5350"/><rect x="884" y="196" width="1" height="39" fill="#ef5350"/><rect x="883" y="204" width="3" height="16" fill="#ef5350"/><rect x="888" y="204" width="1" height="67" fill="#ef5350"/><rect x="887" y="219" width="3" height="46" fill="#ef5350"/><rect x="892" y="218" width="1" height="55" fill="#26a69a"/><rect x="891" y="222" width="3" height="43" fill="#26a69a"/><rect x="896" y="188" width="1" height="37" fill="#26a69a"/><rect x="895" y="193" width="3" height="30" fill="#26a69a"/><rect x="900" y="184" width="1" height="44" fill="#ef5350"/><rect x="899" y="193" width="3" height="25" fill="#ef5350"/><rect x="904" y="205" width="1" height="27" fill="#26a69a"/><rect x="903" y="212" width="3" height="6" fill="#26a69a"/><rect x="908" y="131" width="1" height="86" fill="#26a69a"/><rect x="907" y="134" width="3" height="78" fill="#26a69a"/><rect x="913" y="119" width="1" height="42" fill="#ef5350"/><rect x="912" y="134" width="3" height="8" fill="#ef5350"/><rect x="917" y="128" width="1" height="31" fill="#ef5350"/><rect x="916" y="142" width="3" height="14" fill="#ef5350"/><rect x="921" y="144" width="1" height="25" fill="#ef5350"/><rect x="920" y="156" width="3" height="10" fill="#ef5350"/><rect x="925" y="131" width="1" height="51" fill="#ef5350"/><rect x="924" y="165" width="3" height="14" fill="#ef5350"/><rect x="929" y="136" width="1" height="48" fill="#26a69a"/><rect x="928" y="146" width="3" height="34" fill="#26a69a"/><rect x="933" y="130" width="1" height="32" fill="#26a69a"/><rect x="932" y="145" width="3" height="2" fill="#26a69a"/><rect x="937" y="127" width="1" height="83" fill="#ef5350"/><rect x="936" y="145" width="3" height="47" fill="#ef5350"/><rect x="942" y="176" width="1" height="33" fill="#ef5350"/><rect x="941" y="191" width="3" height="1" fill="#ef5350"/><rect x="946" y="173" width="1" height="20" fill="#26a69a"/><rect x="945" y="185" width="3" height="7" fill="#26a69a"/><rect x="950" y="175" width="1" height="15" fill="#ef5350"/><rect x="949" y="185" width="3" height="5" fill="#ef5350"/><rect x="954" y="188" width="1" height="31" fill="#ef5350"/><rect x="953" y="189" width="3" height="7" fill="#ef5350"/><rect x="958" y="192" width="1" height="53" fill="#ef5350"/><rect x="957" y="195" width="3" height="49" fill="#ef5350"/><rect x="962" y="212" width="1" height="40" fill="#26a69a"/><rect x="961" y="221" width="3" height="22" fill="#26a69a"/><rect x="966" y="219" width="1" height="27" fill="#ef5350"/><rect x="965" y="221" width="3" height="25" fill="#ef5350"/><rect x="970" y="185" width="1" height="76" fill="#26a69a"/><rect x="969" y="192" width="3" height="53" fill="#26a69a"/><rect x="975" y="192" width="1" height="19" fill="#ef5350"/><rect x="974" y="192" width="3" height="7" fill="#ef5350"/><rect x="979" y="179" width="1" height="34" fill="#ef5350"/><rect x="978" y="198" width="3" height="3" fill="#ef5350"/><rect x="983" y="199" width="1" height="51" fill="#ef5350"/><rect x="982" y="201" width="3" height="43" fill="#ef5350"/><rect x="987" y="191" width="1" height="55" fill="#26a69a"/><rect x="986" y="207" width="3" height="37" fill="#26a69a"/><rect x="991" y="199" width="1" height="19" fill="#ef5350"/><rect x="990" y="207" width="3" height="11" fill="#ef5350"/><rect x="995" y="203" width="1" height="19" fill="#ef5350"/><rect x="994" y="216" width="3" height="2" fill="#ef5350"/><rect x="999" y="215" width="1" height="47" fill="#ef5350"/><rect x="998" y="217" width="3" height="35" fill="#ef5350"/><rect x="1003" y="248" width="1" height="18" fill="#ef5350"/><rect x="1002" y="251" width="3" height="1" fill="#ef5350"/><rect x="1008" y="240" width="1" height="24" fill="#ef5350"/><rect x="1007" y="252" width="3" height="10" fill="#ef5350"/><rect x="1012" y="247" width="1" height="33" fill="#ef5350"/><rect x="1011" y="262" width="3" height="5" fill="#ef5350"/><rect x="1016" y="242" width="1" height="27" fill="#26a69a"/><rect x="1015" y="242" width="3" height="25" fill="#26a69a"/><rect x="1020" y="236" width="1" height="17" fill="#ef5350"/><rect x="1019" y="242" width="3" height="4" fill="#ef5350"/><rect x="1024" y="242" width="1" height="18" fill="#ef5350"/><rect x="1023" y="246" width="3" height="13" fill="#ef5350"/><rect x="1028" y="237" width="1" height="25" fill="#26a69a"/><rect x="1027" y="253" width="3" height="6" fill="#26a69a"/><rect x="1032" y="250" width="1" height="8" fill="#ef5350"/><rect x="1031" y="253" width="3" height="1" fill="#ef5350"/><rect x="1036" y="226" width="1" height="28" fill="#26a69a"/><rect x="1035" y="238" width="3" height="16" fill="#26a69a"/><rect x="1041" y="210" width="1" height="32" fill="#26a69a"/><rect x="1040" y="217" width="3" height="21" fill="#26a69a"/><rect x="1045" y="206" width="1" height="19" fill="#ef5350"/><rect x="1044" y="217" width="3" height="6" fill="#ef5350"/><rect x="1049" y="204" width="1" height="19" fill="#26a69a"/><rect x="1048" y="208" width="3" height="15" fill="#26a69a"/><rect x="1053" y="198" width="1" height="16" fill="#26a69a"/><rect x="1052" y="200" width="3" height="14" fill="#26a69a"/><rect x="1057" y="177" width="1" height="23" fill="#26a69a"/><rect x="1056" y="185" width="3" height="15" fill="#26a69a"/><rect x="1061" y="166" width="1" height="23" fill="#26a69a"/><rect x="1060" y="181" width="3" height="4" fill="#26a69a"/><rect x="1065" y="180" width="1" height="26" fill="#ef5350"/><rect x="1064" y="181" width="3" height="24" fill="#ef5350"/><rect x="1069" y="194" width="1" height="26" fill="#ef5350"/><rect x="1068" y="204" width="3" height="6" fill="#ef5350"/><rect x="1074" y="196" width="1" height="21" fill="#26a69a"/><rect x="1073" y="201" width="3" height="9" fill="#26a69a"/><rect x="1078" y="184" width="1" height="28" fill="#26a69a"/><rect x="1077" y="190" width="3" height="11" fill="#26a69a"/><rect x="1082" y="177" width="1" height="18" fill="#ef5350"/><rect x="1081" y="190" width="3" height="3" fill="#ef5350"/><rect x="1086" y="187" width="1" height="27" fill="#ef5350"/><rect x="1085" y="192" width="3" height="20" fill="#ef5350"/><rect x="1090" y="207" width="1" height="11" fill="#ef5350"/><rect x="1089" y="211" width="3" height="4" fill="#ef5350"/><rect x="1094" y="206" width="1" height="15" fill="#ef5350"/><rect x="1093" y="215" width="3" height="3" fill="#ef5350"/><rect x="1098" y="215" width="1" height="65" fill="#ef5350"/><rect x="1097" y="217" width="3" height="28" fill="#ef5350"/><rect x="1102" y="234" width="1" height="23" fill="#ef5350"/><rect x="1101" y="245" width="3" height="6" fill="#ef5350"/><rect x="1107" y="211" width="1" height="48" fill="#26a69a"/><rect x="1106" y="227" width="3" height="24" fill="#26a69a"/><rect x="1111" y="223" width="1" height="51" fill="#ef5350"/><rect x="1110" y="227" width="3" height="44" fill="#ef5350"/><rect x="1115" y="254" width="1" height="26" fill="#26a69a"/><rect x="1114" y="260" width="3" height="11" fill="#26a69a"/><rect x="1119" y="250" width="1" height="16" fill="#26a69a"/><rect x="1118" y="256" width="3" height="4" fill="#26a69a"/><rect x="1123" y="241" width="1" height="23" fill="#26a69a"/><rect x="1122" y="241" width="3" height="16" fill="#26a69a"/><rect x="1127" y="226" width="1" height="20" fill="#26a69a"/><rect x="1126" y="238" width="3" height="4" fill="#26a69a"/><rect x="1131" y="231" width="1" height="23" fill="#ef5350"/><rect x="1130" y="238" width="3" height="9" fill="#ef5350"/><rect x="1135" y="219" width="1" height="34" fill="#26a69a"/><rect x="1134" y="222" width="3" height="25" fill="#26a69a"/><rect x="1140" y="186" width="1" height="37" fill="#26a69a"/><rect x="1139" y="200" width="3" height="23" fill="#26a69a"/><rect x="1144" y="187" width="1" height="22" fill="#26a69a"/><rect x="1143" y="200" width="3" height="1" fill="#26a69a"/><rect x="1148" y="197" width="1" height="26" fill="#ef5350"/><rect x="1147" y="200" width="3" height="18" fill="#ef5350"/><rect x="1152" y="193" width="1" height="29" fill="#26a69a"/><rect x="1151" y="216" width="3" height="1" fill="#26a69a"/><rect x="1156" y="198" width="1" height="22" fill="#26a69a"/><rect x="1155" y="212" width="3" height="6" fill="#26a69a"/><rect x="1160" y="209" width="1" height="36" fill="#ef5350"/><rect x="1159" y="212" width="3" height="33" fill="#ef5350"/><rect x="1164" y="227" width="1" height="22" fill="#26a69a"/><rect x="1163" y="238" width="3" height="7" fill="#26a69a"/><rect x="1168" y="238" width="1" height="24" fill="#ef5350"/><rect x="1167" y="238" width="3" height="19" fill="#ef5350"/><rect x="1173" y="248" width="1" height="29" fill="#ef5350"/><rect x="1172" y="256" width="3" height="16" fill="#ef5350"/><line x1="10" y1="272.5" x2="1286" y2="272.5" stroke="#ef5350" stroke-width="1" stroke-dasharray="1 2"/></g>
<g clip-path="url(#cr)"><linearGradient id="gobf" gradientUnits="userSpaceOnUse" x1="0" y1="542.65" x2="0" y2="625.30"><stop offset="0" stop-color="#4caf50" stop-opacity="1"/><stop offset="1" stop-color="#4caf50" stop-opacity="0"/></linearGradient><clipPath id="c70"><rect x="10" y="565" width="1276" height="60.30"/></clipPath><polygon clip-path="url(#c70)" points="9.50,658.36 13.50,651.30 17.50,646.49 21.50,652.20 26.50,655.46 30.50,652.75 34.50,676.41 38.50,663.42 42.50,677.91 46.50,669.34 50.50,645.68 54.50,656.01 59.50,654.07 63.50,641.29 67.50,612.61 71.50,608.20 75.50,606.30 79.50,609.32 83.50,648.35 87.50,639.23 92.50,635.26 96.50,634.72 100.50,642.22 104.50,644.73 108.50,644.00 112.50,655.90 116.50,652.59 120.50,652.43 125.50,651.06 129.50,645.09 133.50,659.94 137.50,681.61 141.50,710.87 145.50,696.36 149.50,710.80 153.50,721.01 158.50,725.01 162.50,715.47 166.50,712.19 170.50,715.02 174.50,709.52 178.50,711.13 182.50,702.04 187.50,689.77 191.50,669.02 195.50,666.72 199.50,671.67 203.50,680.12 207.50,691.68 211.50,670.25 215.50,676.68 220.50,690.09 224.50,689.65 228.50,688.95 232.50,719.27 236.50,712.46 240.50,722.81 244.50,722.43 248.50,727.14 253.50,719.16 257.50,646.06 261.50,688.84 265.50,684.11 269.50,680.92 273.50,673.98 277.50,688.93 281.50,692.88 286.50,704.42 290.50,711.34 294.50,698.59 298.50,693.00 302.50,692.01 306.50,683.11 310.50,680.28 314.50,688.53 319.50,684.00 323.50,689.06 327.50,666.07 331.50,676.20 335.50,681.81 339.50,682.04 343.50,675.48 347.50,674.42 352.50,674.71 356.50,685.91 360.50,686.84 364.50,700.40 368.50,707.26 372.50,706.89 376.50,712.02 380.50,703.45 385.50,715.42 389.50,709.01 393.50,698.68 397.50,696.68 401.50,719.73 405.50,721.87 409.50,730.54 413.50,693.94 418.50,702.23 422.50,695.07 426.50,678.72 430.50,683.66 434.50,682.35 438.50,687.62 442.50,687.88 446.50,690.02 451.50,690.19 455.50,685.33 459.50,687.97 463.50,686.12 467.50,665.07 471.50,664.56 475.50,669.16 479.50,671.39 484.50,670.13 488.50,659.08 492.50,651.82 496.50,660.74 500.50,674.53 504.50,671.55 508.50,672.56 512.50,678.47 517.50,685.59 521.50,691.26 525.50,684.72 529.50,691.76 533.50,648.66 537.50,645.91 541.50,628.57 545.50,654.12 550.50,632.41 554.50,628.63 558.50,635.06 562.50,667.08 566.50,668.07 570.50,672.61 574.50,661.14 578.50,669.73 583.50,674.05 587.50,667.59 591.50,662.53 595.50,686.43 599.50,680.44 603.50,678.95 607.50,684.86 611.50,682.25 616.50,690.83 620.50,696.90 624.50,713.96 628.50,705.44 632.50,703.34 636.50,699.80 640.50,687.76 644.50,697.23 649.50,715.38 653.50,698.76 657.50,695.00 661.50,676.66 665.50,666.90 669.50,670.61 673.50,677.58 677.50,693.56 682.50,701.09 686.50,702.64 690.50,695.58 694.50,679.95 698.50,695.67 702.50,692.29 706.50,693.48 710.50,702.91 715.50,712.50 719.50,720.43 723.50,686.31 727.50,679.32 731.50,679.93 735.50,696.64 739.50,688.15 743.50,678.57 748.50,674.75 752.50,668.27 756.50,684.04 760.50,670.04 764.50,666.30 768.50,674.03 772.50,674.03 776.50,663.17 781.50,666.24 785.50,655.79 789.50,639.24 793.50,620.34 797.50,603.93 801.50,603.51 805.50,596.42 809.50,589.23 814.50,600.34 818.50,593.06 822.50,576.08 826.50,588.95 830.50,588.56 834.50,587.44 838.50,583.70 842.50,583.70 847.50,646.26 851.50,651.06 855.50,651.06 859.50,648.88 863.50,642.12 867.50,659.77 871.50,658.87 875.50,664.31 880.50,674.55 884.50,683.73 888.50,705.44 892.50,682.06 896.50,669.07 900.50,681.09 904.50,678.16 908.50,648.00 913.50,652.14 917.50,659.48 921.50,664.09 925.50,671.20 929.50,657.60 933.50,657.12 937.50,680.72 942.50,680.90 946.50,677.51 950.50,680.10 954.50,683.22 958.50,706.15 962.50,693.23 966.50,703.82 970.50,676.94 975.50,680.35 979.50,681.31 983.50,700.09 987.50,682.16 991.50,686.92 995.50,686.92 999.50,701.69 1003.50,701.94 1008.50,706.06 1012.50,708.12 1016.50,692.55 1020.50,694.82 1024.50,701.07 1028.50,697.30 1032.50,697.92 1036.50,686.22 1041.50,672.46 1045.50,676.71 1049.50,667.48 1053.50,662.37 1057.50,653.58 1061.50,651.42 1065.50,670.59 1069.50,674.38 1074.50,668.53 1078.50,660.99 1082.50,663.48 1086.50,679.56 1090.50,682.28 1094.50,684.28 1098.50,704.53 1102.50,709.00 1107.50,686.94 1111.50,713.58 1115.50,705.13 1119.50,701.55 1123.50,689.80 1127.50,687.38 1131.50,693.70 1135.50,674.25 1140.50,660.15 1144.50,660.15 1148.50,674.79 1152.50,673.99 1156.50,670.43 1160.50,695.45 1164.50,689.96 1168.50,702.45 1173.50,711.66 1173.04,625.30 9.60,625.30" fill="url(#gobf)"/><polyline points="9.50,672.94 13.50,672.08 17.50,670.75 21.50,669.70 26.50,668.76 30.50,667.49 34.50,667.79 38.50,667.03 42.50,667.17 46.50,666.58 50.50,664.17 54.50,662.37 59.50,660.30 63.50,657.19 67.50,653.93 71.50,650.85 75.50,647.98 79.50,644.91 83.50,644.41 87.50,643.44 92.50,640.50 96.50,638.45 100.50,635.90 104.50,634.14 108.50,634.02 112.50,634.01 116.50,633.91 120.50,634.70 125.50,637.45 129.50,640.09 133.50,643.92 137.50,649.08 141.50,653.55 145.50,657.63 149.50,663.02 153.50,669.18 158.50,675.10 162.50,680.15 166.50,685.02 170.50,689.25 174.50,693.31 178.50,697.51 182.50,701.15 187.50,704.34 191.50,704.99 195.50,703.92 199.50,701.12 203.50,699.96 207.50,698.60 211.50,694.97 215.50,691.52 220.50,689.71 224.50,688.10 228.50,686.23 232.50,686.93 236.50,687.03 240.50,688.51 244.50,690.84 248.50,695.00 253.50,698.74 257.50,696.91 261.50,697.54 265.50,696.99 269.50,697.76 273.50,697.56 277.50,697.48 281.50,697.71 286.50,698.82 290.50,698.25 294.50,697.26 298.50,695.13 302.50,692.96 306.50,689.81 310.50,687.03 314.50,690.07 319.50,689.72 323.50,690.07 327.50,689.01 331.50,689.17 335.50,688.66 339.50,687.89 343.50,685.82 347.50,683.18 352.50,681.48 356.50,680.97 360.50,680.60 364.50,681.84 368.50,683.77 372.50,685.08 376.50,687.08 380.50,688.11 385.50,691.63 389.50,693.98 393.50,695.18 397.50,696.23 401.50,699.39 405.50,702.78 409.50,706.76 413.50,707.34 418.50,708.44 422.50,708.06 426.50,706.02 430.50,704.36 434.50,702.24 438.50,701.11 442.50,699.14 446.50,697.78 451.50,697.18 455.50,696.37 459.50,694.10 463.50,691.55 467.50,686.87 471.50,684.77 475.50,682.41 479.50,680.72 484.50,680.10 488.50,678.35 492.50,676.17 496.50,674.25 500.50,673.29 504.50,671.97 508.50,670.71 512.50,670.23 517.50,670.06 521.50,670.42 525.50,671.83 529.50,673.77 533.50,672.30 537.50,670.48 541.50,667.52 545.50,667.16 550.50,665.78 554.50,663.48 558.50,660.66 562.50,660.34 566.50,660.02 570.50,659.60 574.50,657.86 578.50,656.32 583.50,655.56 587.50,653.83 591.50,654.82 595.50,657.72 599.50,661.42 603.50,663.19 607.50,666.94 611.50,670.77 616.50,674.75 620.50,676.88 624.50,680.16 628.50,682.51 632.50,685.52 636.50,687.67 640.50,688.65 644.50,690.76 649.50,694.54 653.50,695.42 657.50,696.46 661.50,696.30 665.50,695.01 669.50,694.18 673.50,693.24 677.50,693.00 682.50,692.08 686.50,691.88 690.50,691.32 694.50,689.91 698.50,690.47 702.50,690.12 706.50,688.55 710.50,688.85 715.50,690.10 719.50,693.23 723.50,694.61 727.50,695.24 731.50,695.40 735.50,695.62 739.50,694.70 743.50,692.98 748.50,691.49 752.50,690.66 756.50,689.83 760.50,688.24 764.50,686.30 768.50,684.23 772.50,681.49 776.50,677.40 781.50,675.96 785.50,674.28 789.50,671.38 793.50,665.93 797.50,659.91 801.50,654.55 805.50,648.95 809.50,643.31 814.50,637.33 818.50,631.83 822.50,625.39 826.50,619.31 830.50,613.20 834.50,607.79 838.50,601.90 842.50,596.75 847.50,597.25 851.50,599.45 855.50,602.81 859.50,606.05 863.50,609.32 867.50,614.36 871.50,618.54 875.50,623.63 880.50,630.66 884.50,637.43 888.50,645.78 892.50,652.54 896.50,658.64 900.50,665.59 904.50,667.87 908.50,667.65 913.50,667.73 917.50,668.49 921.50,670.06 925.50,670.87 929.50,670.78 933.50,670.27 937.50,670.71 942.50,670.51 946.50,668.51 950.50,668.37 954.50,669.38 958.50,671.17 962.50,672.25 966.50,676.23 970.50,678.00 975.50,679.50 979.50,680.73 983.50,682.79 987.50,684.54 991.50,686.67 995.50,687.12 999.50,688.60 1003.50,690.35 1008.50,692.20 1012.50,693.98 1016.50,693.01 1020.50,693.12 1024.50,692.93 1028.50,694.38 1032.50,695.63 1036.50,695.98 1041.50,694.01 1045.50,693.62 1049.50,692.23 1053.50,690.48 1057.50,687.04 1061.50,683.44 1065.50,680.90 1069.50,678.49 1074.50,676.78 1078.50,674.36 1082.50,671.67 1086.50,670.41 1090.50,669.29 1094.50,669.15 1098.50,671.44 1102.50,673.75 1107.50,675.14 1111.50,678.80 1115.50,682.48 1119.50,686.06 1123.50,687.43 1127.50,688.36 1131.50,690.16 1135.50,691.10 1140.50,690.87 1144.50,689.48 1148.50,688.94 1152.50,688.21 1156.50,685.77 1160.50,684.81 1164.50,685.02 1168.50,684.23 1173.50,684.69" fill="none" stroke="#fdd835" stroke-width="1.3" stroke-linejoin="round"/><polyline points="9.50,658.36 13.50,651.30 17.50,646.49 21.50,652.20 26.50,655.46 30.50,652.75 34.50,676.41 38.50,663.42 42.50,677.91 46.50,669.34 50.50,645.68 54.50,656.01 59.50,654.07 63.50,641.29 67.50,612.61 71.50,608.20 75.50,606.30 79.50,609.32 83.50,648.35 87.50,639.23 92.50,635.26 96.50,634.72 100.50,642.22 104.50,644.73 108.50,644.00 112.50,655.90 116.50,652.59 120.50,652.43 125.50,651.06 129.50,645.09 133.50,659.94 137.50,681.61 141.50,710.87 145.50,696.36 149.50,710.80 153.50,721.01 158.50,725.01 162.50,715.47 166.50,712.19 170.50,715.02 174.50,709.52 178.50,711.13 182.50,702.04 187.50,689.77 191.50,669.02 195.50,666.72 199.50,671.67 203.50,680.12 207.50,691.68 211.50,670.25 215.50,676.68 220.50,690.09 224.50,689.65 228.50,688.95 232.50,719.27 236.50,712.46 240.50,722.81 244.50,722.43 248.50,727.14 253.50,719.16 257.50,646.06 261.50,688.84 265.50,684.11 269.50,680.92 273.50,673.98 277.50,688.93 281.50,692.88 286.50,704.42 290.50,711.34 294.50,698.59 298.50,693.00 302.50,692.01 306.50,683.11 310.50,680.28 314.50,688.53 319.50,684.00 323.50,689.06 327.50,666.07 331.50,676.20 335.50,681.81 339.50,682.04 343.50,675.48 347.50,674.42 352.50,674.71 356.50,685.91 360.50,686.84 364.50,700.40 368.50,707.26 372.50,706.89 376.50,712.02 380.50,703.45 385.50,715.42 389.50,709.01 393.50,698.68 397.50,696.68 401.50,719.73 405.50,721.87 409.50,730.54 413.50,693.94 418.50,702.23 422.50,695.07 426.50,678.72 430.50,683.66 434.50,682.35 438.50,687.62 442.50,687.88 446.50,690.02 451.50,690.19 455.50,685.33 459.50,687.97 463.50,686.12 467.50,665.07 471.50,664.56 475.50,669.16 479.50,671.39 484.50,670.13 488.50,659.08 492.50,651.82 496.50,660.74 500.50,674.53 504.50,671.55 508.50,672.56 512.50,678.47 517.50,685.59 521.50,691.26 525.50,684.72 529.50,691.76 533.50,648.66 537.50,645.91 541.50,628.57 545.50,654.12 550.50,632.41 554.50,628.63 558.50,635.06 562.50,667.08 566.50,668.07 570.50,672.61 574.50,661.14 578.50,669.73 583.50,674.05 587.50,667.59 591.50,662.53 595.50,686.43 599.50,680.44 603.50,678.95 607.50,684.86 611.50,682.25 616.50,690.83 620.50,696.90 624.50,713.96 628.50,705.44 632.50,703.34 636.50,699.80 640.50,687.76 644.50,697.23 649.50,715.38 653.50,698.76 657.50,695.00 661.50,676.66 665.50,666.90 669.50,670.61 673.50,677.58 677.50,693.56 682.50,701.09 686.50,702.64 690.50,695.58 694.50,679.95 698.50,695.67 702.50,692.29 706.50,693.48 710.50,702.91 715.50,712.50 719.50,720.43 723.50,686.31 727.50,679.32 731.50,679.93 735.50,696.64 739.50,688.15 743.50,678.57 748.50,674.75 752.50,668.27 756.50,684.04 760.50,670.04 764.50,666.30 768.50,674.03 772.50,674.03 776.50,663.17 781.50,666.24 785.50,655.79 789.50,639.24 793.50,620.34 797.50,603.93 801.50,603.51 805.50,596.42 809.50,589.23 814.50,600.34 818.50,593.06 822.50,576.08 826.50,588.95 830.50,588.56 834.50,587.44 838.50,583.70 842.50,583.70 847.50,646.26 851.50,651.06 855.50,651.06 859.50,648.88 863.50,642.12 867.50,659.77 871.50,658.87 875.50,664.31 880.50,674.55 884.50,683.73 888.50,705.44 892.50,682.06 896.50,669.07 900.50,681.09 904.50,678.16 908.50,648.00 913.50,652.14 917.50,659.48 921.50,664.09 925.50,671.20 929.50,657.60 933.50,657.12 937.50,680.72 942.50,680.90 946.50,677.51 950.50,680.10 954.50,683.22 958.50,706.15 962.50,693.23 966.50,703.82 970.50,676.94 975.50,680.35 979.50,681.31 983.50,700.09 987.50,682.16 991.50,686.92 995.50,686.92 999.50,701.69 1003.50,701.94 1008.50,706.06 1012.50,708.12 1016.50,692.55 1020.50,694.82 1024.50,701.07 1028.50,697.30 1032.50,697.92 1036.50,686.22 1041.50,672.46 1045.50,676.71 1049.50,667.48 1053.50,662.37 1057.50,653.58 1061.50,651.42 1065.50,670.59 1069.50,674.38 1074.50,668.53 1078.50,660.99 1082.50,663.48 1086.50,679.56 1090.50,682.28 1094.50,684.28 1098.50,704.53 1102.50,709.00 1107.50,686.94 1111.50,713.58 1115.50,705.13 1119.50,701.55 1123.50,689.80 1127.50,687.38 1131.50,693.70 1135.50,674.25 1140.50,660.15 1144.50,660.15 1148.50,674.79 1152.50,673.99 1156.50,670.43 1160.50,695.45 1164.50,689.96 1168.50,702.45 1173.50,711.66" fill="none" stroke="#7e57c2" stroke-width="3" stroke-linejoin="round"/></g>
<line x1="1286.5" y1="28" x2="1286.5" y2="772" stroke="#dfe0e3" stroke-width="1"/>
<line x1="10" y1="564.5" x2="1351" y2="564.5" stroke="#e0e3eb" stroke-width="1"/>
<line x1="10" y1="745.5" x2="1351" y2="745.5" stroke="#dfe0e3" stroke-width="1"/>
<rect x="10" y="367" width="1" height="59" fill="#26a69a" opacity="0.6"/>
<text x="1295" y="543.65" font-size="11.6" fill="#131722">1.6000</text>
<text x="1295" y="496.65" font-size="11.6" fill="#131722">1.8000</text>
<text x="1295" y="449.65" font-size="11.6" fill="#131722">2.0000</text>
<text x="1295" y="402.65" font-size="11.6" fill="#131722">2.2000</text>
<text x="1295" y="355.65" font-size="11.6" fill="#131722">2.4000</text>
<text x="1295" y="308.65" font-size="11.6" fill="#131722">2.6000</text>
<text x="1295" y="261.65" font-size="11.6" fill="#131722">2.8000</text>
<text x="1295" y="213.65" font-size="11.6" fill="#131722">3.0000</text>
<text x="1295" y="166.65" font-size="11.6" fill="#131722">3.2000</text>
<text x="1295" y="119.65" font-size="11.6" fill="#131722">3.4000</text>
<text x="1295" y="72.65" font-size="11.6" fill="#131722">3.6000</text>
<text x="1295" y="602.0" font-size="11.6" fill="#131722">80.00</text>
<text x="1295" y="657.0" font-size="11.6" fill="#131722">60.00</text>
<text x="1295" y="712.1" font-size="11.6" fill="#131722">40.00</text>
<text x="18" y="46.2" font-size="11.7" fill="#131722" textLength="160.4" lengthAdjust="spacingAndGlyphs">XRP / TetherUS · 1D · Binance</text>
<text x="186.4" y="46.2" font-size="11.7" fill="#131722">O</text>
<text x="237.6" y="46.2" font-size="11.7" fill="#131722">H</text>
<text x="288.3" y="46.2" font-size="11.7" fill="#131722">L</text>
<text x="337.7" y="46.2" font-size="11.7" fill="#131722">C</text>
<text x="194.3" y="46.2" font-size="11.7" fill="#f23645" textLength="35" lengthAdjust="spacingAndGlyphs">2.8021</text>
<text x="245.1" y="46.2" font-size="11.7" fill="#f23645" textLength="35" lengthAdjust="spacingAndGlyphs">2.8372</text>
<text x="294.5" y="46.2" font-size="11.7" fill="#f23645" textLength="34.8" lengthAdjust="spacingAndGlyphs">2.7131</text>
<text x="345.2" y="46.2" font-size="11.7" fill="#f23645" textLength="34.6" lengthAdjust="spacingAndGlyphs">2.7352</text>
<text x="387.8" y="46.2" font-size="11.7" fill="#f23645" textLength="91" lengthAdjust="spacingAndGlyphs">−0.0669 (−2.39%)</text>
<text x="18" y="62.6" font-size="11.7" fill="#131722" textLength="82" lengthAdjust="spacingAndGlyphs">EMA (20, close)</text>
<text x="107.8" y="62.6" font-size="11.7" fill="#2962ff" textLength="35.2" lengthAdjust="spacingAndGlyphs">2.8985</text>
<text x="18" y="79.3" font-size="11.7" fill="#131722" textLength="81" lengthAdjust="spacingAndGlyphs">SMA (50, close)</text>
<text x="106.9" y="79.3" font-size="11.7" fill="#f23645" textLength="35.3" lengthAdjust="spacingAndGlyphs">2.9240</text>
<text x="18.5" y="584" font-size="11.7" fill="#131722" textLength="74.5" lengthAdjust="spacingAndGlyphs">RSI (14, close)</text>
<text x="102.1" y="584" font-size="11.7" fill="#7e57c2" textLength="28.7" lengthAdjust="spacingAndGlyphs">38.37</text>
<text x="138.3" y="584" font-size="11.7" fill="#fdd835" textLength="29.6" lengthAdjust="spacingAndGlyphs">48.40</text>
<g clip-path="url(#ct)">
<text x="9.6" y="763.1" font-size="12" fill="#131722" text-anchor="middle" font-weight="bold">2025</text>
</g>
<text x="127.5" y="763.1" font-size="12" fill="#131722" textLength="18.8" lengthAdjust="spacingAndGlyphs">Feb</text>
<text x="242.7" y="763.1" font-size="12" fill="#131722" textLength="19.2" lengthAdjust="spacingAndGlyphs">Mar</text>
<text x="371.4" y="763.1" font-size="12" fill="#131722" textLength="18.2" lengthAdjust="spacingAndGlyphs">Apr</text>
<text x="493.7" y="763.1" font-size="12" fill="#131722" textLength="21.1" lengthAdjust="spacingAndGlyphs">May</text>
<text x="623.2" y="763.1" font-size="12" fill="#131722" textLength="18" lengthAdjust="spacingAndGlyphs">Jun</text>
<text x="748.3" y="763.1" font-size="12" fill="#131722" textLength="15.4" lengthAdjust="spacingAndGlyphs">Jul</text>
<text x="874.3" y="763.1" font-size="12" fill="#131722" textLength="19.2" lengthAdjust="spacingAndGlyphs">Aug</text>
<text x="1002.8" y="763.1" font-size="12" fill="#131722" textLength="18.5" lengthAdjust="spacingAndGlyphs">Sep</text>
<text x="1126.1" y="763.1" font-size="12" fill="#131722" textLength="18.5" lengthAdjust="spacingAndGlyphs">Oct</text>
<text x="1253.6" y="763.1" font-size="12" fill="#131722" textLength="19.6" lengthAdjust="spacingAndGlyphs">Nov</text>
<path d="M1287,46 H1334 Q1336,46 1336,48 V61 Q1336,63 1334,63 H1287 V46 Z" fill="#0000ff"/>
<rect x="1287" y="28" width="63" height="32.8" fill="#ffffff"/>
<rect x="1290.4" y="31.3" width="57.4" height="25.4" rx="5" ry="5" fill="#ffffff" stroke="#ececec" stroke-width="1"/>
<text x="1299.2" y="48.7" font-size="12" fill="#131722" textLength="27.6" lengthAdjust="spacingAndGlyphs">USDT</text>
<path d="M1238.2,208.1 H1286 V224.8 H1238.2 Q1236.2,224.8 1236.2,222.8 V210.1 Q1236.2,208.1 1238.2,208.1 Z" fill="#f23645"/>
<path d="M1287,208.1 H1333.8 Q1335.8,208.1 1335.8,210.1 V222.8 Q1335.8,224.8 1333.8,224.8 H1287 V208.1 Z" fill="#f23645"/>
<text x="1240.8" y="220.6" font-size="11.7" fill="#fff" textLength="41.5" lengthAdjust="spacingAndGlyphs">SMA:MA</text>
<text x="1295.2" y="220.6" font-size="11.7" fill="#fff" textLength="35.1" lengthAdjust="spacingAndGlyphs">2.9240</text>
<path d="M1257.1,225.2 H1286 V241.7 H1257.1 Q1255.1,241.7 1255.1,239.7 V227.2 Q1255.1,225.2 1257.1,225.2 Z" fill="#2962ff"/>
<path d="M1287,225.2 H1333.8 Q1335.8,225.2 1335.8,227.2 V239.7 Q1335.8,241.7 1333.8,241.7 H1287 V225.2 Z" fill="#2962ff"/>
<text x="1260.3" y="237.6" font-size="11.7" fill="#fff" textLength="22" lengthAdjust="spacingAndGlyphs">EMA</text>
<text x="1295.2" y="237.6" font-size="11.7" fill="#fff" textLength="35.1" lengthAdjust="spacingAndGlyphs">2.8985</text>
<path d="M1231.1,264.2 H1286 V280.5 H1231.1 Q1229.1,280.5 1229.1,278.5 V266.2 Q1229.1,264.2 1231.1,264.2 Z" fill="#ef5350"/>
<path d="M1287,264.2 H1344.8 Q1346.8,264.2 1346.8,266.2 V306.5 Q1346.8,308.5 1344.8,308.5 H1287 V264.2 Z" fill="#ef5350"/>
<text x="1233.4" y="276.8" font-size="11.7" fill="#fff" textLength="47.7" lengthAdjust="spacingAndGlyphs">XRPUSDT</text>
<text x="1295.3" y="276.8" font-size="11.7" fill="#fff" textLength="35" lengthAdjust="spacingAndGlyphs">2.7352</text>
<text x="1295.3" y="290.3" font-size="11.7" fill="#fff" textLength="42.5" lengthAdjust="spacingAndGlyphs">+31.27%</text>
<text x="1294.9" y="304.3" font-size="11.7" fill="#fde4e4" textLength="46.1" lengthAdjust="spacingAndGlyphs">07:57:13</text>
<path d="M1287,309.2 H1333.8 Q1335.8,309.2 1335.8,311.2 V323.9 Q1335.8,325.9 1333.8,325.9 H1287 V309.2 Z" fill="#0000ff"/>
<text x="1295.3" y="321.3" font-size="11.7" fill="#fff" textLength="35" lengthAdjust="spacingAndGlyphs">2.6900</text>
<path d="M1209.1,676.4 H1286 V692.6 H1209.1 Q1207.1,692.6 1207.1,690.6 V678.4 Q1207.1,676.4 1209.1,676.4 Z" fill="#fdd835"/>
<path d="M1287,676.4 H1327.6 Q1329.6,676.4 1329.6,678.4 V690.6 Q1329.6,692.6 1327.6,692.6 H1287 V676.4 Z" fill="#fdd835"/>
<text x="1211.6" y="688.6" font-size="11.7" fill="#131722" textLength="70.3" lengthAdjust="spacingAndGlyphs">RSI-based MA</text>
<text x="1295.4" y="688.6" font-size="11.7" fill="#131722" textLength="28.8" lengthAdjust="spacingAndGlyphs">48.40</text>
<path d="M1263.5,704.3 H1286 V720.5 H1263.5 Q1261.5,720.5 1261.5,718.5 V706.3 Q1261.5,704.3 1263.5,704.3 Z" fill="#7e57c2"/>
<path d="M1287,704.3 H1327.6 Q1329.6,704.3 1329.6,706.3 V718.5 Q1329.6,720.5 1327.6,720.5 H1287 V704.3 Z" fill="#7e57c2"/>
<text x="1266.5" y="716.5" font-size="11.7" fill="#fff" textLength="15.4" lengthAdjust="spacingAndGlyphs">RSI</text>
<text x="1295.4" y="716.5" font-size="11.7" fill="#fff" textLength="28.8" lengthAdjust="spacingAndGlyphs">38.37</text>
<line x1="1286.5" y1="200" x2="1286.5" y2="330" stroke="#e8e8ea" stroke-width="1"/>
<line x1="1286.5" y1="670" x2="1286.5" y2="725" stroke="#e8e8ea" stroke-width="1"/>
<g fill="none" stroke="#9c27b0" stroke-width="1.4" stroke-linecap="round"><path d="M1176.2,541.9 A9.8,9.8 0 1 0 1183.1,549.3"/></g>
<path d="M1175.8,546.4 L1169.6,551.9 L1177.4,551.6 L1170.6,556.6" fill="none" stroke="#9c27b0" stroke-width="1.9" stroke-linejoin="round" stroke-linecap="round"/>
<circle cx="1180.4" cy="544.5" r="2.5" fill="#f23645"/>
<g fill="#131313"><path d="M12,795 H23.9 V809.8 H18 V800.8 H12 Z"/><circle cx="29" cy="798" r="2.8"/><path d="M34.7,795.2 H41.8 L36.1,809.7 H29 Z"/></g>
<text x="49.1" y="809.8" font-size="20" fill="#131313" font-weight="bold" textLength="120.5" lengthAdjust="spacingAndGlyphs">TradingView</text>
</svg>
</body></html>
